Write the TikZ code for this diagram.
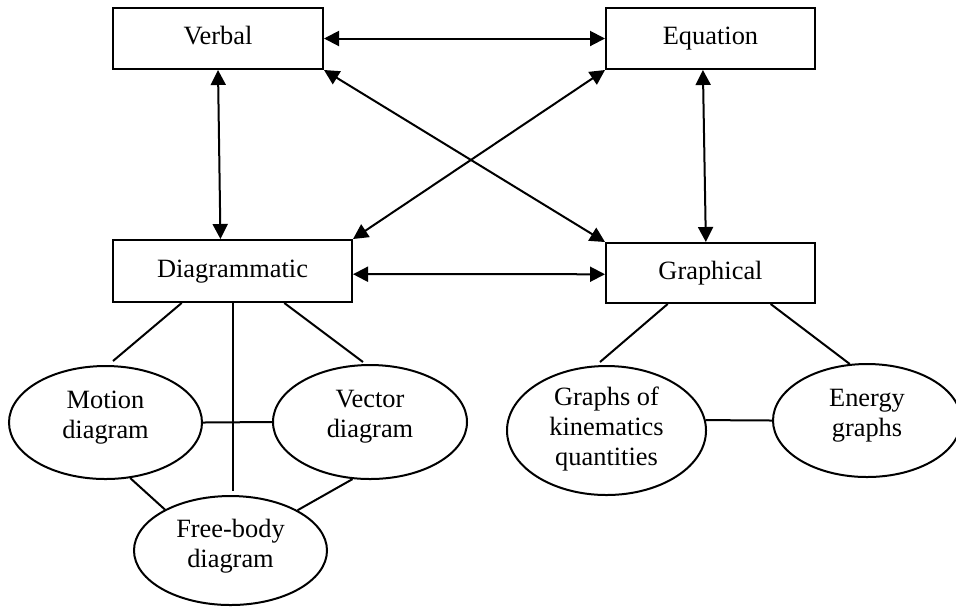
\documentclass[tikz,border=0pt]{standalone}
\usepackage{fontspec}
\setmainfont{Liberation Serif}
\usetikzlibrary{arrows.meta,shapes.geometric,calc}
\begin{document}
\begin{tikzpicture}[x=0.5pt,y=-0.5pt,line width=1pt,
  font=\fontsize{13.2}{15}\selectfont,
  box/.style={draw,rectangle,inner sep=0pt,text height=9pt,text depth=2.9pt},
  ell/.style={draw,ellipse,inner sep=0pt,align=center},
  lift/.style={text depth=#1},
  biarrow/.style={{Triangle[length=7.5pt,width=7.5pt]}-{Triangle[length=7.5pt,width=7.5pt]}},
  link/.style={draw}]
\clip (0,0) rectangle (956,607);
% boxes
\node[box,minimum width=105pt,minimum height=30.5pt] (V) at (218,38.5) {Verbal};
\node[box,minimum width=104.5pt,minimum height=30.5pt] (E) at (710.5,38.5) {Equation};
\node[box,minimum width=119.5pt,minimum height=31pt] (D) at (232.5,271) {Diagrammatic};
\node[box,minimum width=104.5pt,minimum height=30pt] (G) at (710.5,273) {Graphical};
% ellipses
\node[ell,lift=8pt,minimum width=96.5pt,minimum height=56.5pt] (M) at (105.5,422.5) {Motion\\diagram};
\node[ell,lift=8pt,minimum width=97pt,minimum height=57pt] (Vec) at (370,422) {Vector\\diagram};
\node[ell,lift=7pt,minimum width=96.5pt,minimum height=54.5pt] (F) at (230.5,550.5) {Free-body\\diagram};
\node[ell,lift=4pt,minimum width=99.5pt,minimum height=64.5pt] (Gr) at (606.5,430.5) {Graphs of\\kinematics\\quantities};
\node[ell,lift=8pt,minimum width=94pt,minimum height=56.5pt] (En) at (867,420.5) {Energy\\graphs};
% double arrows
\draw[biarrow] (V.east) -- (E.west);
\draw[biarrow] (V.south) -- ($(D.north west)!0.45!(D.north east)$);
\draw[biarrow] ($(E.south west)!0.464!(E.south east)$) -- ($(G.north west)!0.478!(G.north east)$);
\draw[biarrow] (V.south east) -- (G.north west);
\draw[biarrow] (D.north east) -- (E.south west);
\draw[biarrow] ($(D.north east)!0.55!(D.south east)$) -- ($(G.north west)!0.52!(G.south west)$);
% plain links
\draw[link] ($(D.south west)!0.289!(D.south east)$) -- ($(M.north)+(7.5,-4)$);
\draw[link] (D.south) -- ($(D.south |- F.north)+(0,-4)$);
\draw[link] ($(D.south west)!0.715!(D.south east)$) -- ($(Vec.north)+(-7,-2)$);
\draw[link] (M.east) -- (Vec.west);
\draw[link] (M.-66) -- (F.148);
\draw[link] (Vec.-107) -- (F.31);
\draw[link] ($(G.south west)!0.297!(G.south east)$) -- ($(Gr.north)+(-6.5,-3)$);
\draw[link] ($(G.south west)!0.785!(G.south east)$) -- (En.107);
\draw[link] (Gr.6) -- (En.west);
\end{tikzpicture}
\end{document}
